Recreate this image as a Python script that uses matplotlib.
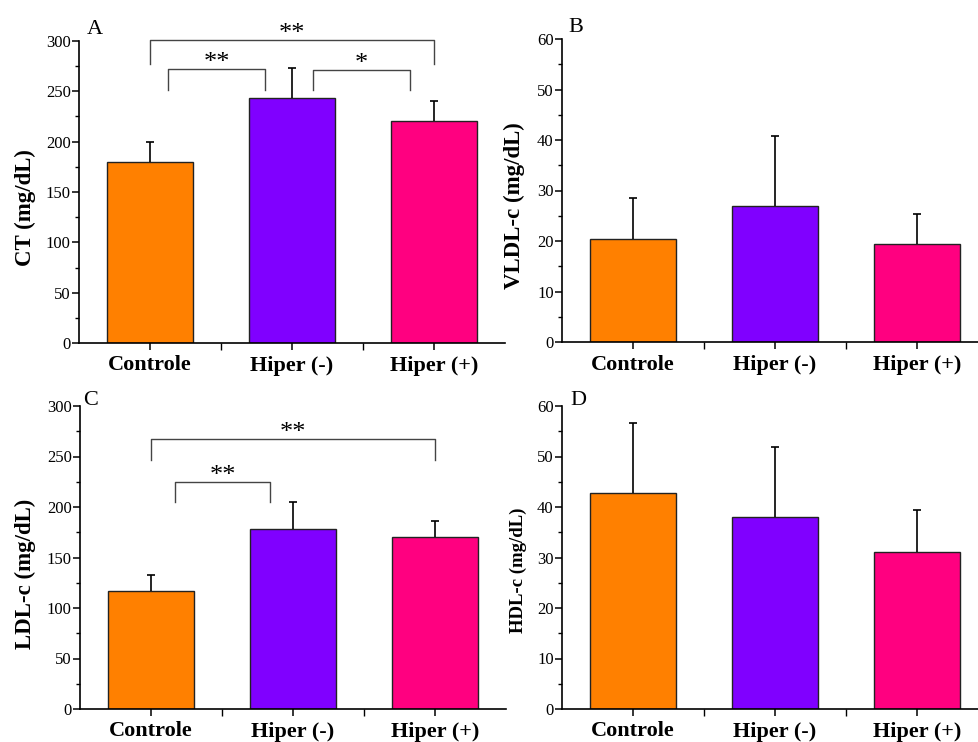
import matplotlib
matplotlib.use("Agg")
import matplotlib.pyplot as plt
import numpy as np
from matplotlib.ticker import MultipleLocator, FixedLocator

plt.rcParams['font.family'] = ['Liberation Serif', 'DejaVu Serif']

groups = ['Controle', 'Hiper (-)', 'Hiper (+)']
colors = ['#FF8000', '#8000FF', '#FF0080']

# mean and SD per group, mg/dL
ct_mean = [180, 243, 221]
ct_sd = [20, 30, 19]
vldl_mean = [20.3, 26.9, 19.5]
vldl_sd = [8.3, 13.8, 5.8]
ldl_mean = [117, 178, 170]
ldl_sd = [16, 27, 16]
hdl_mean = [42.7, 38.0, 31.1]
hdl_sd = [13.9, 13.8, 8.3]

# significance brackets: (x_start, x_end, y_bar, y_leg, label)
ct_sig = [(0.0, 2.0, 300.5, 277, '**'),
          (0.13, 0.81, 272, 251, '**'),
          (1.15, 1.83, 271, 251, '*')]
ldl_sig = [(0.0, 2.0, 267.5, 246.5, '**'),
           (0.17, 0.84, 225, 204.5, '**')]

fig = plt.figure(figsize=(9.79, 7.42), dpi=100)

W = 426 / 979
H = 303 / 742
# letter, rect, mean, sd, ymax, step, ylabel, label size, label coords, letter pos, brackets
panels = [
    ('A', [79 / 979, (742 - 343) / 742, W, 302 / 742], ct_mean, ct_sd, 300, 50,
     'CT (mg/dL)', 16.5, (-0.102, 0.45), (0.019, 1.023), ct_sig),
    ('B', [562 / 979, (742 - 342) / 742, W, H], vldl_mean, vldl_sd, 60, 10,
     'VLDL-c (mg/dL)', 16.5, (-0.088, 0.449), (0.016, 1.023), []),
    ('C', [80 / 979, (742 - 709) / 742, W, H], ldl_mean, ldl_sd, 300, 50,
     'LDL-c (mg/dL)', 16.5, (-0.104, 0.445), (0.007, 1.003), ldl_sig),
    ('D', [562 / 979, (742 - 709) / 742, W, H], hdl_mean, hdl_sd, 60, 10,
     'HDL-c (mg/dL)', 13.5, (-0.083, 0.459), (0.019, 1.003), []),
]

x = np.arange(len(groups))
for letter, rect, mean, sd, ymax, step, ylabel, yfs, lab_xy, let_xy, sig in panels:
    ax = fig.add_axes(rect)
    ax.bar(x, mean, width=0.6, color=colors, edgecolor='#222222', linewidth=1.0, zorder=2)
    # upper-only error bars, lower cap hidden
    eb = ax.errorbar(x, mean, yerr=[np.zeros(3), sd], fmt='none', ecolor='black',
                     elinewidth=1.2, capsize=3, capthick=1.2, zorder=3)
    eb[1][0].set_visible(False)
    ax.set_xlim(-0.5, 2.5)
    ax.set_ylim(0, ymax)
    ax.spines['top'].set_visible(False)
    ax.spines['right'].set_visible(False)
    ax.spines['left'].set_linewidth(1.2)
    ax.spines['bottom'].set_linewidth(1.2)
    ax.yaxis.set_major_locator(MultipleLocator(step))
    ax.yaxis.set_minor_locator(MultipleLocator(step / 2))
    ax.set_xticks(x)
    ax.xaxis.set_minor_locator(FixedLocator([0.5, 1.5]))
    ax.set_xticklabels(groups, fontsize=16, fontweight='bold')
    ax.tick_params(axis='y', which='major', direction='out', length=5, width=1.1, labelsize=12, pad=1)
    ax.tick_params(axis='y', which='minor', direction='out', length=3, width=1.0)
    ax.tick_params(axis='x', which='major', direction='out', length=5, width=1.1, pad=4)
    ax.tick_params(axis='x', which='minor', direction='out', length=5, width=1.0)
    ax.set_ylabel(ylabel, fontsize=yfs, fontweight='bold')
    ax.yaxis.set_label_coords(*lab_xy)
    ax.text(let_xy[0], let_xy[1], letter, transform=ax.transAxes, fontsize=16,
            ha='left', va='baseline')

    for x0, x1, yb, yl, lab in sig:
        ax.plot([x0, x0, x1, x1], [yl, yb, yb, yl], color='#444444', lw=1.0,
                clip_on=False, zorder=4)
        ax.text((x0 + x1) / 2, yb, lab, ha='center', va='baseline',
                fontsize=19, clip_on=False)

fig.savefig('out.png', dpi=100)
